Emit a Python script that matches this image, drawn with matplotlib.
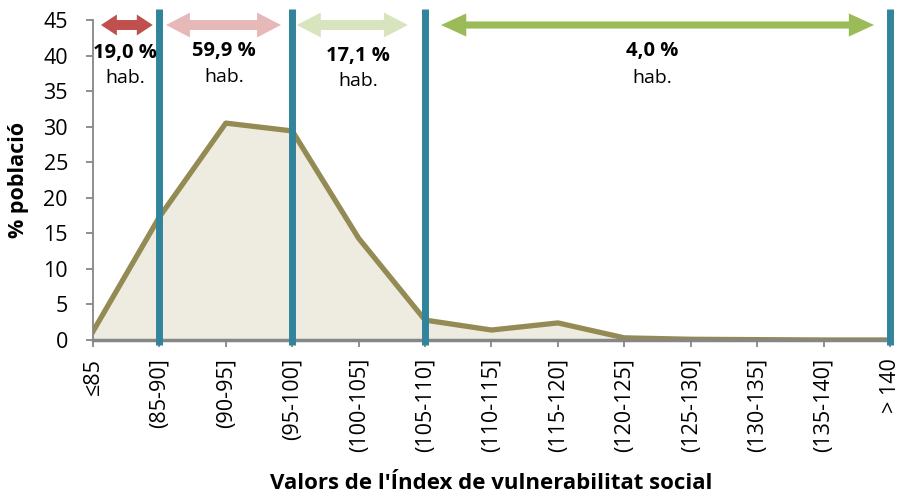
import numpy as np
import matplotlib.pyplot as plt
import matplotlib as mpl
from matplotlib.patches import Polygon

mpl.rcParams['font.family'] = ['Open Sans', 'DejaVu Sans']

categories = ['≤85', '(85-90]', '(90-95]', '(95-100]', '(100-105]', '(105-110]',
              '(110-115]', '(115-120]', '(120-125]', '(125-130]', '(130-135]',
              '(135-140]', '> 140']
pct = [1.2, 17.3, 30.5, 29.4, 14.3, 2.8, 1.4, 2.4, 0.3, 0.1, 0.05, 0.0, 0.0]

# limits between groups (category index) and group shares
cuts = [0, 1, 3, 5, 12]
shares = ['19,0 %', '59,9 %', '17,1 %', '4,0 %']
arrow_colors = ['#C0504D', '#E6B9B8', '#D7E4BD', '#9BBB59']

x = np.arange(len(categories))


def double_arrow(a, b, y, w, hw, hl):
    # outline of a block arrow with heads on both ends
    return [(a, y), (a + hl, y + hw / 2), (a + hl, y + w / 2), (b - hl, y + w / 2),
            (b - hl, y + hw / 2), (b, y), (b - hl, y - hw / 2), (b - hl, y - w / 2),
            (a + hl, y - w / 2), (a + hl, y - hw / 2)]


fig = plt.figure(figsize=(9.01, 4.98), dpi=100)
ax = fig.add_axes([0.1032, 0.3173, 0.8846, 0.6425])

ax.fill_between(x, pct, 0, color='#EEECE1', zorder=1)
ax.plot(x, pct, color='#948A54', lw=3.8, zorder=2)

ax.set_xlim(0, 12)
ax.set_ylim(0, 45)
ax.set_yticks(np.arange(0, 46, 5))
ax.set_xticks(x)
ax.set_xticklabels(categories, rotation=90, fontsize=15.5)
ax.tick_params(axis='y', labelsize=15.5, colors='#868686', labelcolor='black',
               length=5, width=1.3, pad=13)
ax.tick_params(axis='x', colors='#868686', labelcolor='black', length=5, width=1.3, pad=8)

for s in ['top', 'right']:
    ax.spines[s].set_visible(False)
ax.spines['left'].set_color('#868686')
ax.spines['left'].set_linewidth(1.3)
ax.spines['bottom'].set_color('#868686')
ax.spines['bottom'].set_linewidth(2.5)
ax.spines['bottom'].set_zorder(3)

for c in cuts[1:]:
    ax.plot([c, c], [-0.7, 46.5], color='#31849B', lw=5, clip_on=False, zorder=4,
            solid_capstyle='butt')

# double arrows: (left pad, right pad, shaft, head width, head length)
arrow_geo = [(0.12, 0.1, 1.4, 2.95, 0.24),
             (0.1, 0.17, 1.4, 3.5, 0.36),
             (0.07, 0.26, 1.4, 3.5, 0.36),
             (0.24, 0.24, 1.0, 3.25, 0.38)]
text_x = [0.48, 1.97, 3.99, 8.42]
text_y = [(40.4, 36.8), (40.7, 37.0), (39.9, 36.4), (40.7, 36.8)]
ya = 44.3
for i in range(4):
    a, b = cuts[i] + arrow_geo[i][0], cuts[i + 1] - arrow_geo[i][1]
    w, hw, hl = arrow_geo[i][2:]
    ax.add_patch(Polygon(double_arrow(a, b, ya, w, hw, hl), closed=True,
                         facecolor=arrow_colors[i], lw=0, clip_on=False, zorder=5))
    ax.text(text_x[i], text_y[i][0], shares[i], ha='center', va='center', fontsize=14.5,
            fontweight='bold', zorder=6)
    ax.text(text_x[i], text_y[i][1], 'hab.', ha='center', va='center', fontsize=14, zorder=6)

ax.set_ylabel('% població', fontsize=15.5, fontweight='bold', va='center')
ax.yaxis.set_label_coords(-0.094, 0.5)
ax.set_xlabel("Valors de l'Índex de vulnerabilitat social", fontsize=16,
              fontweight='bold', va='center')
ax.xaxis.set_label_coords(0.5, -0.447)

fig.savefig('out.png', dpi=100)
